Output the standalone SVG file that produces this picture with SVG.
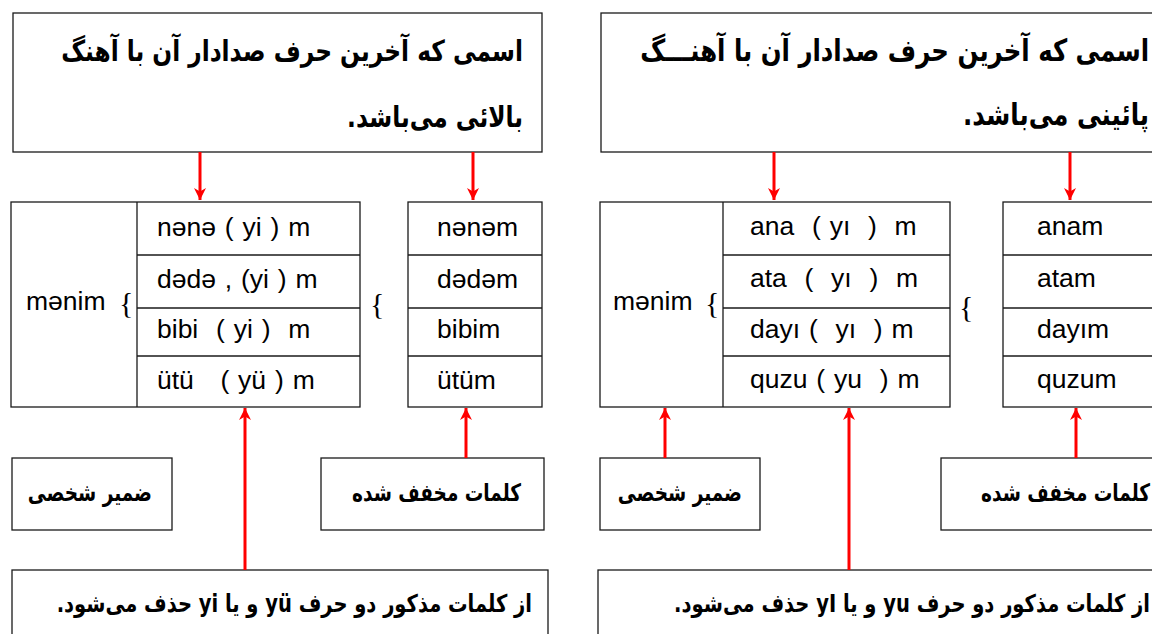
<svg xmlns="http://www.w3.org/2000/svg" width="1152" height="634" viewBox="0 0 1152 634">
<defs>
<marker id="ah" markerUnits="userSpaceOnUse" markerWidth="12" markerHeight="12" refX="10" refY="5" orient="auto" viewBox="0 0 10 10">
<path d="M0,0 L10,5 L0,10 L3,5 z" fill="#ff0000"/>
</marker>
<style>
.box{fill:#fff;stroke:#1a1a1a;stroke-width:1.3}
.ln{stroke:#1a1a1a;stroke-width:1.3}
.ar{font-family:"DejaVu Sans",sans-serif;font-weight:bold;direction:rtl;text-anchor:start;fill:#000}
.t{font-family:"Liberation Sans",Arial,sans-serif;font-size:26.5px;fill:#000;white-space:pre}
.w{word-spacing:1.5px}
.br{font-family:"Liberation Serif",serif;font-size:30px;fill:#000}
.arr{stroke:#ff0000;stroke-width:3;fill:none;marker-end:url(#ah)}
</style>
</defs>
<rect width="1152" height="634" fill="#fff"/>

<g id="top-left">
<rect class="box" x="13" y="13" width="529" height="139"/>
<text class="ar" x="523" y="0" font-size="23.3" direction="rtl" transform="translate(0,61) scale(1,1.25)">اسمی که آخرین حرف صدادار آن با آهنگ</text>
<text class="ar" x="523" y="0" font-size="23.3" direction="rtl" transform="translate(0,127) scale(1,1.25)">بالائی می‌باشد.</text>
</g>

<g id="top-right">
<rect class="box" x="601" y="13" width="570" height="139"/>
<text class="ar" x="1149" y="0" font-size="24.4" direction="rtl" transform="translate(0,61) scale(1,1.25)">اسمی که آخرین حرف صدادار آن با آهنـــگ</text>
<text class="ar" x="1149" y="0" font-size="24.4" direction="rtl" transform="translate(0,125) scale(1,1.25)">پائینی می‌باشد.</text>
</g>

<g id="table-left">
<rect class="box" x="11" y="202" width="349" height="205"/>
<line class="ln" x1="137" y1="202" x2="137" y2="407"/>
<line class="ln" x1="137" y1="255" x2="360" y2="255"/>
<line class="ln" x1="137" y1="308" x2="360" y2="308"/>
<line class="ln" x1="137" y1="356" x2="360" y2="356"/>
<text class="t" x="26" y="310">mənim</text>
<text class="br" x="119" y="313">{</text>
<text class="t w" x="157" y="236">nənə ( yi ) m</text>
<text class="t w" x="157" y="288">dədə , (yi ) m</text>
<text class="t w" x="157" y="338">bibi  ( yi )  m</text>
<text class="t w" x="157" y="389">ütü   ( yü ) m</text>
</g>

<g id="brace-left-2">
<text class="br" x="370" y="314">{</text>
</g>

<g id="short-left">
<rect class="box" x="408" y="202" width="134" height="205"/>
<line class="ln" x1="408" y1="255" x2="542" y2="255"/>
<line class="ln" x1="408" y1="308" x2="542" y2="308"/>
<line class="ln" x1="408" y1="356" x2="542" y2="356"/>
<text class="t" x="437" y="236">nənəm</text>
<text class="t" x="437" y="288">dədəm</text>
<text class="t" x="437" y="338">bibim</text>
<text class="t" x="437" y="389">ütüm</text>
</g>

<g id="table-right">
<rect class="box" x="600" y="202" width="350" height="205"/>
<line class="ln" x1="723" y1="202" x2="723" y2="407"/>
<line class="ln" x1="723" y1="255" x2="950" y2="255"/>
<line class="ln" x1="723" y1="308" x2="950" y2="308"/>
<line class="ln" x1="723" y1="356" x2="950" y2="356"/>
<text class="t" x="613" y="310">mənim</text>
<text class="br" x="705" y="313">{</text>
<text class="t w" x="750" y="235">ana  ( yı  )  m</text>
<text class="t w" x="750" y="287">ata  (  yı  )  m</text>
<text class="t w" x="750" y="338">dayı (  yı  ) m</text>
<text class="t w" x="750" y="388">quzu ( yu  ) m</text>
</g>

<g id="brace-right-2">
<text class="br" x="959" y="317">{</text>
</g>

<g id="short-right">
<rect class="box" x="1003" y="202" width="170" height="205"/>
<line class="ln" x1="1003" y1="255" x2="1152" y2="255"/>
<line class="ln" x1="1003" y1="308" x2="1152" y2="308"/>
<line class="ln" x1="1003" y1="356" x2="1152" y2="356"/>
<text class="t" x="1037" y="235">anam</text>
<text class="t" x="1037" y="287">atam</text>
<text class="t" x="1037" y="338">dayım</text>
<text class="t" x="1037" y="388">quzum</text>
</g>

<g id="pronoun-left">
<rect class="box" x="12" y="458" width="160" height="72"/>
<text class="ar" x="152" y="0" font-size="18.5" direction="rtl" transform="translate(0,501) scale(1,1.3)">ضمیر شخصی</text>
</g>

<g id="shortened-left">
<rect class="box" x="321" y="458" width="223" height="72"/>
<text class="ar" x="521" y="0" font-size="18.5" direction="rtl" transform="translate(0,501) scale(1,1.3)">کلمات مخفف شده</text>
</g>

<g id="pronoun-right">
<rect class="box" x="600" y="458" width="160" height="72"/>
<text class="ar" x="742" y="0" font-size="18.5" direction="rtl" transform="translate(0,501) scale(1,1.3)">ضمیر شخصی</text>
</g>

<g id="shortened-right">
<rect class="box" x="941" y="458" width="230" height="72"/>
<text class="ar" x="1150" y="0" font-size="18.5" direction="rtl" transform="translate(0,501) scale(1,1.3)">کلمات مخفف شده</text>
</g>

<g id="note-left">
<rect class="box" x="12" y="570" width="536" height="80"/>
<text class="ar" x="532" y="0" font-size="19.5" direction="rtl" transform="translate(0,612) scale(1,1.25)">از کلمات مذکور دو حرف yü و یا yi حذف می‌شود.</text>
</g>

<g id="note-right">
<rect class="box" x="598" y="570" width="570" height="80"/>
<text class="ar" x="1150" y="0" font-size="19.5" direction="rtl" transform="translate(0,612) scale(1,1.25)">از کلمات مذکور دو حرف yu و یا yI  حذف می‌شود.</text>
</g>

<g id="connectors">
<line class="arr" x1="200" y1="152" x2="200" y2="200"/>
<line class="arr" x1="473" y1="152" x2="473" y2="200"/>
<line class="arr" x1="774" y1="152" x2="774" y2="200"/>
<line class="arr" x1="1070" y1="152" x2="1070" y2="200"/>
<line class="arr" x1="245" y1="570" x2="245" y2="408"/>
<line class="arr" x1="466" y1="458" x2="466" y2="408"/>
<line class="arr" x1="665" y1="458" x2="665" y2="408"/>
<line class="arr" x1="849" y1="570" x2="849" y2="408"/>
<line class="arr" x1="1076" y1="458" x2="1076" y2="408"/>
</g>
</svg>
